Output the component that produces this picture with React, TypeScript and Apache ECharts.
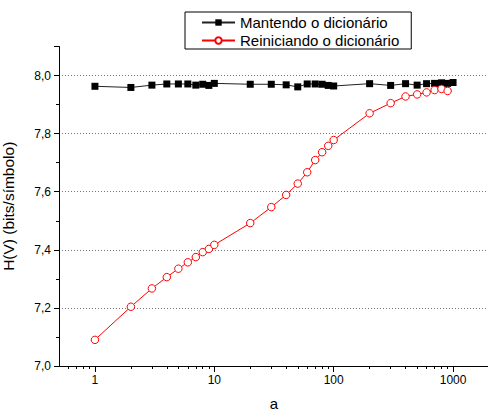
import React, { useEffect, useRef } from "react";
import * as echarts from "echarts";

const aValues = [1, 2, 3, 4, 5, 6, 7, 8, 9, 10, 20, 30, 40, 50, 60, 70, 80, 90, 100, 200, 300, 400, 500, 600, 700, 800, 900, 1000];
const mantendo = [7.963, 7.959, 7.967, 7.971, 7.971, 7.971, 7.967, 7.970, 7.966, 7.973, 7.970, 7.970, 7.968, 7.961, 7.971, 7.971, 7.970, 7.966, 7.964, 7.972, 7.966, 7.972, 7.967, 7.972, 7.973, 7.975, 7.973, 7.976];
const reiniciando = [7.090, 7.204, 7.267, 7.306, 7.335, 7.357, 7.375, 7.392, 7.403, 7.417, 7.492, 7.547, 7.589, 7.628, 7.667, 7.709, 7.736, 7.758, 7.778, 7.870, 7.905, 7.928, 7.935, 7.942, 7.950, 7.954, 7.947];
const majorXTicks = [1, 10, 100, 1000];
const minorXTicks = [0.6, 0.7, 0.8, 0.9, 2, 3, 4, 5, 6, 7, 8, 9, 20, 30, 40, 50, 60, 70, 80, 90, 200, 300, 400, 500, 600, 700, 800, 900, 2000];
const seriesNames = ["Mantendo o dicionário", "Reiniciando o dicionário"];

const FONT = '"Liberation Sans", Arial, sans-serif';

export default function App() {
  const ref = useRef<HTMLDivElement>(null);
  useEffect(() => {
    document.body.style.margin = "0";
    if (!ref.current) return;
    const chart = echarts.init(ref.current, null, { renderer: "svg" });
    chart.setOption({
      animation: false,
      textStyle: { fontFamily: FONT },
      legend: {
        orient: "vertical",
        left: 185,
        top: 12,
        padding: [3, 12, 1, 16],
        itemGap: 3,
        itemWidth: 33,
        itemHeight: 8,
        borderColor: "#000",
        borderWidth: 1,
        borderRadius: 0,
        textStyle: { fontSize: 15, color: "#000", lineHeight: 15, fontFamily: FONT },
        data: seriesNames,
      },
      grid: { left: 59, top: 46.5, width: 430, height: 319.5, containLabel: false, outerBoundsMode: "none" },
      xAxis: [
        {
          type: "log",
          logBase: 10,
          min: 0.5,
          max: 2000,
          name: "a",
          nameLocation: "middle",
          nameGap: 30,
          nameTextStyle: { fontSize: 15, color: "#000", fontFamily: FONT },
          axisLine: { show: true, lineStyle: { color: "#000", width: 1 } },
          axisTick: { show: true, inside: false, length: 6, customValues: majorXTicks, lineStyle: { color: "#000" } },
          axisLabel: {
            show: true,
            customValues: majorXTicks,
            margin: 8,
            fontSize: 12,
            color: "#000",
            fontFamily: FONT,
            formatter: (v: number) => String(Math.round(v)),
          },
          splitLine: { show: false },
        },
        {
          type: "log",
          logBase: 10,
          min: 0.5,
          max: 2000,
          position: "bottom",
          axisLine: { show: false },
          axisTick: { show: true, inside: false, length: 3, customValues: minorXTicks, lineStyle: { color: "#000" } },
          axisLabel: { show: false },
          splitLine: { show: false },
        },
      ],
      yAxis: {
        type: "value",
        min: 7.0,
        max: 8.1,
        interval: 0.2,
        name: "H(V) (bits/símbolo)",
        nameLocation: "middle",
        nameGap: 43,
        nameTextStyle: { fontSize: 15.5, color: "#000", fontFamily: FONT },
        axisLine: { show: true, lineStyle: { color: "#000", width: 1 } },
        axisTick: { show: true, inside: false, length: 5, lineStyle: { color: "#000" } },
        minorTick: { show: true, splitNumber: 2, length: 3, lineStyle: { color: "#000" } },
        axisLabel: {
          margin: 8,
          fontSize: 12,
          color: "#000",
          fontFamily: FONT,
          showMaxLabel: false,
          formatter: (v: number) => v.toFixed(1).replace(".", ","),
        },
        splitLine: {
          show: true,
          showMinLine: false,
          showMaxLine: false,
          lineStyle: { color: "#777", width: 1, type: [1, 2] },
        },
      },
      series: [
        {
          name: seriesNames[0],
          type: "line",
          xAxisIndex: 0,
          data: aValues.map((a, i) => [a, mantendo[i]]),
          symbol: "rect",
          symbolSize: 7,
          itemStyle: { color: "#000" },
          lineStyle: { color: "#222", width: 1 },
        },
        {
          name: seriesNames[1],
          type: "line",
          xAxisIndex: 0,
          data: reiniciando.map((v, i) => [aValues[i], v]),
          symbol: "circle",
          symbolSize: 7.5,
          itemStyle: { color: "#ffffff", borderColor: "#ff0000", borderWidth: 1 },
          lineStyle: { color: "#ff0000", width: 1 },
        },
      ],
    });
    return () => chart.dispose();
  }, []);
  return <div ref={ref} style={{ width: 488, height: 413 }} />;
}
